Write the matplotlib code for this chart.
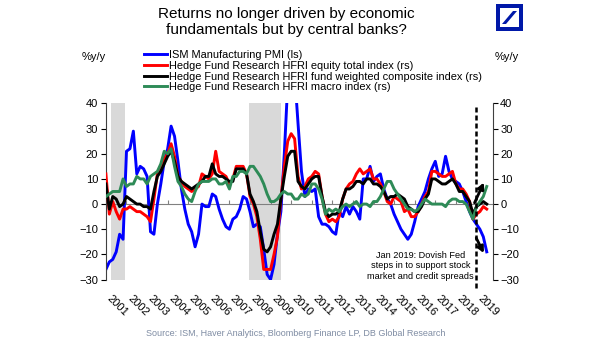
import numpy as np
import matplotlib
matplotlib.use('Agg')
import matplotlib.pyplot as plt
from matplotlib.patches import Rectangle, Polygon

plt.rcParams['font.family'] = ['Liberation Sans', 'DejaVu Sans']

# bi-monthly readings (Jan, Mar, May, Jul, Sep, Nov), Jan 2001 - Jul 2019, % y/y
ism = [
    -26, -23, -22, -19, -12, -14,   # 2001
    21, 22, 29, 12, 15, 14,         # 2002
    11, -11, -12, 0, 8, 17,         # 2003
    22, 31, 27, 17, 6, -2,          # 2004
    -8, -11, -17, -12, 0, -1,       # 2005
    -1, 4, 3, -2, -6, -9,           # 2006
    -10, -6, -5, -2, 3, 2,          # 2007
    -3, -9, -8, -9, -18, -28,       # 2008
    -30, -24, -12, -3, 20, 48,      # 2009
    60, 52, 32, 13, 3, 6,           # 2010
    5, 6, -5, -8, -8, -9,           # 2011
    -11, -12, -3, -5, -1, -4,       # 2012
    -1, -3, -6, 10, 10, 15,         # 2013
    9, 11, 12, 6, 2, 0,             # 2014
    -4, -7, -10, -12, -14, -12,     # 2015
    -7, -1, 2, 5, 10, 14,           # 2016
    17, 11, 12, 19, 13, 10,         # 2017
    9, 8, 5, 1, -3, -6,             # 2018
    -8, -10, -13, -19,              # 2019
]
hfri_equity = [
    12, -4, 1, -3, -6, -2,
    -2, -1, -2, -3, -3, -4,
    -5, -7, 2, 12, 15, 18,
    20, 24, 19, 11, 9, 7,
    6, 5, 6, 7, 12, 11,
    10, 12, 21, 13, 12, 11,
    8, 10, 15, 15, 15, 12,
    3, 0, -5, -14, -26, -26,
    -26, -20, -13, 2, 15, 25,
    28, 26, 11, 6, 7, 10,
    11, 13, 12, 3, -4, -7,
    -6, -7, -5, 2, 6, 8,
    9, 12, 14, 12, 13, 14,
    10, 10, 8, 5, 1, 0,
    3, 2, 1, -3, -2, -5,
    -5, -3, 0, 3, 5, 13,
    13, 12, 11, 11, 12, 13,
    8, 6, 6, 4, 1, -6,
    -4, -3, -1, -2,
]
hfri_composite = [
    8, -2, 3, 2, -1, 0,
    3, 2, 1, 0, 0, -1,
    -1, -2, 5, 11, 13, 16,
    19, 21, 17, 11, 9, 8,
    7, 6, 7, 8, 9, 11,
    11, 16, 12, 11, 11, 10,
    9, 9, 14, 14, 14, 12,
    4, 1, -3, -11, -18, -19,
    -17, -12, -8, 2, 11, 19,
    21, 21, 9, 7, 6, 8,
    10, 11, 11, 3, -3, -5,
    -4, -4, -3, 2, 6, 6,
    7, 9, 9, 8, 10, 10,
    8, 8, 7, 5, 2, 3,
    3, 4, 3, 2, -1, -2,
    -3, -3, -1, 2, 4, 10,
    10, 9, 8, 8, 9, 10,
    8, 5, 5, 3, 1, -4,
    -1, 0, 1, 0,
]
hfri_macro = [
    3, 4, 5, 5, 5, 10,
    7, 8, 8, 11, 10, 10,
    8, 11, 12, 13, 16, 21,
    20, 22, 15, 9, 7, 4,
    2, 1, 5, 8, 9, 9,
    9, 10, 10, 8, 8, 9,
    6, 11, 11, 13, 13, 12,
    15, 15, 13, 11, 8, 4,
    1, 1, 2, 4, 5, 4,
    4, 2, 2, 4, 3, 4,
    8, 8, 6, 2, -4, -2,
    -3, -2, -3, -1, 0, -1,
    0, 1, -1, 0, 0, -1,
    1, 1, 3, 6, 9, 9,
    6, 4, 2, 0, -2, -2,
    -3, -2, 0, 2, 1, 0,
    0, 0, 0, -1, 1, 2,
    2, 1, 1, 0, -3, -6,
    -1, 1, 3, 7,
]
recessions = [(2001.25, 2001.92), (2007.96, 2009.5)]
years = list(range(2001, 2020))
labels = ['ISM Manufacturing PMI (ls)',
          'Hedge Fund Research HFRI equity total index (rs)',
          'Hedge Fund Research HFRI fund weighted composite index (rs)',
          'Hedge Fund Research HFRI macro index (rs)']

x = 2001 + np.arange(len(ism)) / 6

W, H = 605, 341
fig = plt.figure(figsize=(W / 100, H / 100), dpi=100)


def fx(px):
    return px / W


def fy(py):
    return 1 - py / H


ax = fig.add_axes([fx(105.7), fy(279.5), fx(492.5) - fx(105.7), fy(103.5) - fy(279.5)])
ax.set_xlim(2000.99, 2019.78)
ax.set_ylim(-30, 40)

for a, b in recessions:
    ax.axvspan(a, b, color='#d9d9d9', lw=0, zorder=0)

l1, = ax.plot(x, ism, color='#0000ff', lw=2.1, zorder=2)
l2, = ax.plot(x, hfri_equity, color='#ff0000', lw=2.1, zorder=3)
l3, = ax.plot(x, hfri_composite, color='black', lw=2.1, zorder=4)
l4, = ax.plot(x, hfri_macro, color='#2e8b57', lw=2.1, zorder=5)

# spines
ax.spines['top'].set_visible(False)
ax.spines['bottom'].set_position(('data', 0))
ax.spines['bottom'].set_color('#808080')
ax.spines['bottom'].set_zorder(1)
for s in ['left', 'right']:
    ax.spines[s].set_color('#404040')
    ax.spines[s].set_linewidth(0.8)

ax.set_yticks(range(-30, 41, 10))
ax.tick_params(axis='y', left=True, right=True, labelleft=True, labelright=True,
               direction='out', length=3.5, width=0.8, labelsize=8, pad=2, colors='black')
ax.set_xticks(years)
ax.tick_params(axis='x', direction='in', length=3, width=0.8, color='#808080', labelbottom=False)

tr = matplotlib.transforms.blended_transform_factory(ax.transData, ax.transAxes)
for yr in years:
    ax.text(yr + 0.3, -0.08, str(yr), transform=tr, rotation=-45, rotation_mode='anchor',
            ha='left', va='top', fontsize=8)

# Jan 2019 marker
ax.plot([2018.97, 2018.97], [-33.5, 39], color='black', lw=1.8, ls=(0, (2, 1.2)),
        clip_on=False, zorder=6)
ax.annotate('', xy=(2019.42, 9.6), xytext=(2018.85, -0.5),
            arrowprops=dict(arrowstyle='-|>', color='black', lw=2, mutation_scale=9), zorder=7)
ax.annotate('', xy=(2019.42, -20.5), xytext=(2018.93, -12.5),
            arrowprops=dict(arrowstyle='-|>', color='black', lw=2, mutation_scale=9), zorder=7)
ax.text(2016.28, -24.6, 'Jan 2019: Dovish Fed\nsteps in to support stock\nmarket and credit spreads',
        ha='center', va='center', fontsize=6.6, linespacing=1.2, zorder=8)

fig.legend([l1, l2, l3, l4], labels, loc='upper left',
           bbox_to_anchor=(fx(144), fy(50)), bbox_transform=fig.transFigure,
           frameon=False, fontsize=7.9, handlelength=2.1, handletextpad=0.2,
           labelspacing=0.07, borderpad=0, borderaxespad=0)

fig.text(fx(286), fy(22), 'Returns no longer driven by economic\nfundamentals but by central banks?',
         ha='center', va='center', fontsize=11, linespacing=1.2)
fig.text(fx(94), fy(57), '%y/y', ha='center', va='center', fontsize=8)
fig.text(fx(507), fy(57), '%y/y', ha='center', va='center', fontsize=8)
fig.text(fx(296), fy(333), 'Source: ISM, Haver Analytics, Bloomberg Finance LP, DB Global Research',
         ha='center', va='center', fontsize=6.5, color='#7f8ca3')

# Deutsche Bank logo
blue = '#0018a8'
fig.patches.append(Rectangle((fx(496), fy(31)), fx(27), fy(4) - fy(31), transform=fig.transFigure,
                             facecolor=blue, edgecolor='none'))
fig.patches.append(Rectangle((fx(500), fy(27)), fx(19), fy(8) - fy(27), transform=fig.transFigure,
                             facecolor='white', edgecolor='none'))
fig.patches.append(Polygon([(fx(502), fy(24)), (fx(506), fy(24)), (fx(517), fy(11)), (fx(513), fy(11))],
                           closed=True, transform=fig.transFigure, facecolor=blue, edgecolor='none'))

fig.savefig('out.png', dpi=100)
